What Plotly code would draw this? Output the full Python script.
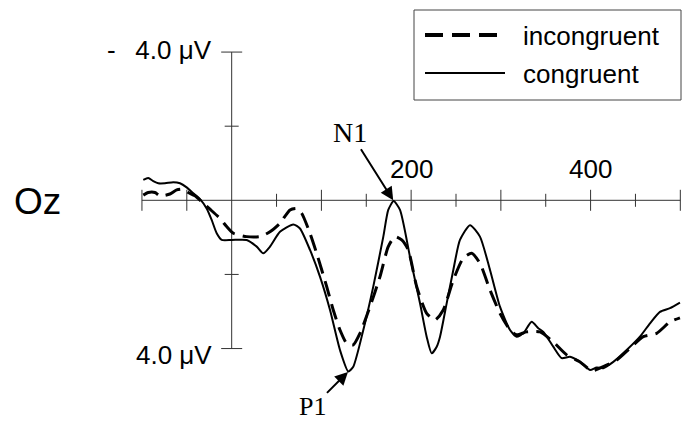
import plotly.graph_objects as go

# ---------------- data ----------------
time_congruent = [-98.5, -93, -87.4, -81.8, -74.3, -65.1, -57.6, -50.2, -42.8, -35.3, -27.9, -22.3,
                  -16.7, -11.1, 0, 16.7, 27.9, 35.2, 42.7, 53.8, 68.7, 76.1, 87.3, 98.4, 109.6,
                  120.7, 130, 135.5, 146.7, 157.8, 169, 174.5, 180.5, 187.6, 198.7, 209.9, 217.3,
                  222.9, 228.5, 232.2, 239.6, 247, 254.4, 265.6, 276.7, 287.9, 299, 310.2, 317.6,
                  325, 334.3, 341.7, 347.3, 358.4, 367.8, 377, 388.2, 399.3, 406.8, 414.1, 425.3,
                  440.2, 455, 466.2, 477.3, 488.5, 499.6]
amp_congruent = [-0.55, -0.60, -0.52, -0.46, -0.46, -0.49, -0.46, -0.35, -0.19, -0.03, 0.22, 0.53,
                 0.89, 1.07, 1.07, 1.07, 1.25, 1.43, 1.25, 0.85, 0.65, 0.76, 1.34, 2.06, 2.96,
                 4.04, 4.62, 4.49, 3.50, 2.33, 0.98, 0.26, 0.02, 0.26, 1.52, 2.78, 3.68,
                 4.13, 3.95, 3.68, 2.78, 1.88, 1.07, 0.67, 0.98, 1.88, 2.87, 3.50, 3.68,
                 3.59, 3.28, 3.45, 3.55, 3.95, 4.26, 4.22, 4.36, 4.58, 4.51, 4.53, 4.36,
                 4.04, 3.68, 3.32, 3.01, 2.91, 2.76]

time_incongruent = [-98.5, -93, -85.5, -79.9, -68.8, -61.3, -53.9, -48.4, -40.9, -33.4, -24.2, -13,
                    -5.6, 1.8, 16.7, 31.5, 42.7, 53.8, 65, 72.4, 78, 87.3, 94.7, 105.9, 113.2,
                    120.7, 128.2, 135.5, 143, 154.1, 165.3, 174.5, 182, 189.5, 196.8, 206.2, 217.3,
                    226.6, 235.8, 247, 258.1, 267.5, 276.7, 287.9, 299, 310.2, 317.6, 328.8, 343.6,
                    358.4, 373.3, 388.2, 401.2, 414.1, 429.1, 443.9, 458.7, 473.6, 488.5, 499.6]
amp_incongruent = [-0.14, -0.21, -0.21, -0.12, -0.17, -0.28, -0.30, -0.21, -0.12, 0.04, 0.24, 0.49,
                   0.71, 0.89, 0.98, 0.98, 0.85, 0.62, 0.26, 0.22, 0.35, 0.89, 1.43, 2.33, 2.96,
                   3.50, 3.86, 3.90, 3.59, 2.87, 2.06, 1.25, 0.98, 1.07, 1.34, 2.33, 3.05,
                   3.23, 2.96, 2.15, 1.56, 1.43, 1.70, 2.42, 3.05, 3.50, 3.63, 3.55, 3.55,
                   3.82, 4.17, 4.36, 4.60, 4.49, 4.31, 3.99, 3.68, 3.59, 3.28, 3.17]

x_major_ticks = [-100, -50, 100, 200, 300, 400, 500]
x_minor_ticks = [50, 150, 250, 350, 450]
y_major_ticks = [-4, 4]
y_minor_ticks = [-2, 2]
x_tick_labels = {200: "200", 400: "400"}
y_tick_labels = {-4: "-\u00a0\u00a0\u20094.0 \u03bcV", 4: "4.0 \u03bcV"}
series_names = ["incongruent", "congruent"]
channel_name = "Oz"
n1_peak = (180, 0.0)
p1_peak = (129.6, 4.63)

# ---------------- layout geometry ----------------
W, H = 691, 426
X_RANGE = [-258.2, 511.9]
Y_RANGE = [6.09, -5.405]   # negative up
PX_PER_MS = W / (X_RANGE[1] - X_RANGE[0])
PX_PER_UV = H / (Y_RANGE[0] - Y_RANGE[1])


def px(x):
    return x / W


def py(y):
    return 1 - y / H


FONT = "Arial, Liberation Sans, sans-serif"
SERIF = "Times New Roman, Liberation Serif, serif"

fig = go.Figure()

fig.add_trace(go.Scatter(x=time_incongruent, y=amp_incongruent, mode="lines",
                         name=series_names[0],
                         line=dict(color="black", width=3, dash="16px,8px",
                                   shape="spline", smoothing=0.6)))
fig.add_trace(go.Scatter(x=time_congruent, y=amp_congruent, mode="lines",
                         name=series_names[1],
                         line=dict(color="black", width=2, shape="spline", smoothing=0.6)))

shapes = []
axis_line = dict(color="#333", width=1)
# x axis
shapes.append(dict(type="line", xref="x", yref="y", x0=min(x_major_ticks), x1=max(x_major_ticks),
                   y0=0, y1=0, line=axis_line, layer="below"))
for t in x_major_ticks:
    h = 10.5 / PX_PER_UV
    shapes.append(dict(type="line", xref="x", yref="y", x0=t, x1=t, y0=-h, y1=h,
                       line=axis_line, layer="below"))
for t in x_minor_ticks:
    h = 6.5 / PX_PER_UV
    shapes.append(dict(type="line", xref="x", yref="y", x0=t, x1=t, y0=-h, y1=h,
                       line=axis_line, layer="below"))
# y axis
shapes.append(dict(type="line", xref="x", yref="y", x0=0, x1=0, y0=min(y_major_ticks),
                   y1=max(y_major_ticks), line=axis_line, layer="below"))
for t in y_major_ticks:
    h = 10.5 / PX_PER_MS
    shapes.append(dict(type="line", xref="x", yref="y", x0=-h, x1=h, y0=t, y1=t,
                       line=axis_line, layer="below"))
for t in y_minor_ticks:
    h = 7 / PX_PER_MS
    shapes.append(dict(type="line", xref="x", yref="y", x0=-h, x1=h, y0=t, y1=t,
                       line=axis_line, layer="below"))

# legend box (drawn by hand)
shapes.append(dict(type="rect", xref="paper", yref="paper", x0=px(414), x1=px(681),
                   y0=py(100), y1=py(10), line=dict(color="#444", width=1),
                   fillcolor="white", layer="above"))
shapes.append(dict(type="line", xref="paper", yref="paper", x0=px(425), x1=px(498),
                   y0=py(35), y1=py(35), line=dict(color="black", width=4, dash="18px,9px")))
shapes.append(dict(type="line", xref="paper", yref="paper", x0=px(425), x1=px(505),
                   y0=py(73), y1=py(73), line=dict(color="black", width=2)))

annotations = []
for t, lab in x_tick_labels.items():
    annotations.append(dict(x=t, y=0, xref="x", yref="y", text=lab, showarrow=False,
                            xanchor="center", yanchor="middle", yshift=31,
                            font=dict(family=FONT, size=26, color="black")))
for t, lab in y_tick_labels.items():
    annotations.append(dict(x=0, y=t, xref="x", yref="y", text=lab, showarrow=False,
                            xanchor="right", yanchor="middle", xshift=-18,
                            yshift=2 if t < 0 else -6,
                            font=dict(family=FONT, size=26, color="black")))
annotations.append(dict(x=px(37), y=py(201), xref="paper", yref="paper", text=channel_name,
                        showarrow=False, xanchor="center", yanchor="middle",
                        font=dict(family=FONT, size=37, color="black")))
# legend labels
annotations.append(dict(x=px(521), y=py(36), xref="paper", yref="paper", text=series_names[0],
                        showarrow=False, xanchor="left", yanchor="middle",
                        font=dict(family=FONT, size=26, color="black")))
annotations.append(dict(x=px(521), y=py(74), xref="paper", yref="paper", text=series_names[1],
                        showarrow=False, xanchor="left", yanchor="middle",
                        font=dict(family=FONT, size=26, color="black")))
# component labels
annotations.append(dict(x=n1_peak[0], y=n1_peak[1], xref="x", yref="y", text="N1",
                        showarrow=True, ax=-43, ay=-68, arrowhead=2, arrowsize=1.3,
                        arrowwidth=2, arrowcolor="black", standoff=0,
                        font=dict(family=SERIF, size=28, color="black")))
annotations.append(dict(x=p1_peak[0], y=p1_peak[1], xref="x", yref="y", text="P1",
                        showarrow=True, ax=-35, ay=35, arrowhead=2, arrowsize=1.3,
                        arrowwidth=2, arrowcolor="black", standoff=0, borderpad=0,
                        font=dict(family=SERIF, size=26, color="black")))

fig.update_layout(
    width=W, height=H, margin=dict(l=0, r=0, t=0, b=0),
    paper_bgcolor="white", plot_bgcolor="white", showlegend=False,
    xaxis=dict(range=X_RANGE, visible=False, fixedrange=True),
    yaxis=dict(range=Y_RANGE, visible=False, fixedrange=True),
    shapes=shapes, annotations=annotations,
)

fig.write_html("out.html", config={"displayModeBar": False},
               post_script="document.body.style.margin='0';document.body.style.overflow='hidden';")
